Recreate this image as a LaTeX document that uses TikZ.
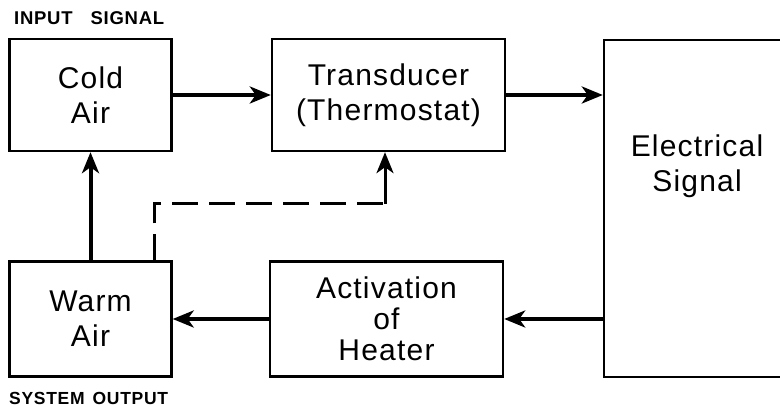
\documentclass[tikz,border=0pt]{standalone}
\usepackage{fontspec}
\setmainfont{Liberation Sans}[LetterSpace=4]
\usetikzlibrary{arrows.meta, positioning, calc}

\tikzset{
  block/.style={draw, line width=2.4pt, align=center, font=\fontsize{30}{35}\selectfont},
  flow/.style={line width=4pt, -{Stealth[length=21pt, width=17pt, inset=6pt]}},
  sense/.style={line width=3pt, dash pattern=on 26pt off 11pt},
  tag/.style={font=\fontsize{18.5}{21}\selectfont\bfseries, inner sep=0pt, anchor=base west}
}

\begin{document}
\begin{tikzpicture}[x=1pt, y=-1pt]
  \clip (0,0) rectangle (780,411);
  % top row
  \node[block, minimum width=162pt, minimum height=112pt] (cold) at (90.5,95) {Cold\\Air};
  \node[block, minimum width=233pt, minimum height=112pt] (trans) at (388.5,95) {Transducer\\(Thermostat)};
  % bottom row
  \node[block, minimum width=162pt, minimum height=115pt] (warm) at (90.5,319) {Warm\\Air};
  \node[block, minimum width=233pt, minimum height=115pt, font=\fontsize{30}{31}\selectfont] (act) at (386.5,319) {Activation\\of\\Heater};
  % right block, cut by the page edge
  \node[block, minimum width=188pt, minimum height=337pt] (elec) at (698,208.5) {};
  \node[block, draw=none] (electxt) at (697,166) {Electrical\\Signal};
  % labels
  \node[tag] (input) at (14,25) {INPUT\hspace{18pt}SIGNAL};
  \node[tag, font=\fontsize{17.5}{21}\selectfont\bfseries] (output) at (9,405) {SYSTEM\hspace{8pt}OUTPUT};
  % connectors
  \draw[flow] (cold) -- (trans);
  \draw[flow] (trans.east) -- (trans.east -| elec.west);
  \draw[flow] (act.east -| elec.west) -- (act.east);
  \draw[flow] (act) -- (warm);
  \draw[flow] (warm) -- (cold);
  \coordinate (tap) at ($(warm.north east)+(-18,0)$);
  \coordinate (bend) at (385,204);
  \draw[sense] (tap) |- (bend);
  \draw[flow, line width=3pt] (bend) -- (bend |- trans.south);
\end{tikzpicture}
\end{document}
